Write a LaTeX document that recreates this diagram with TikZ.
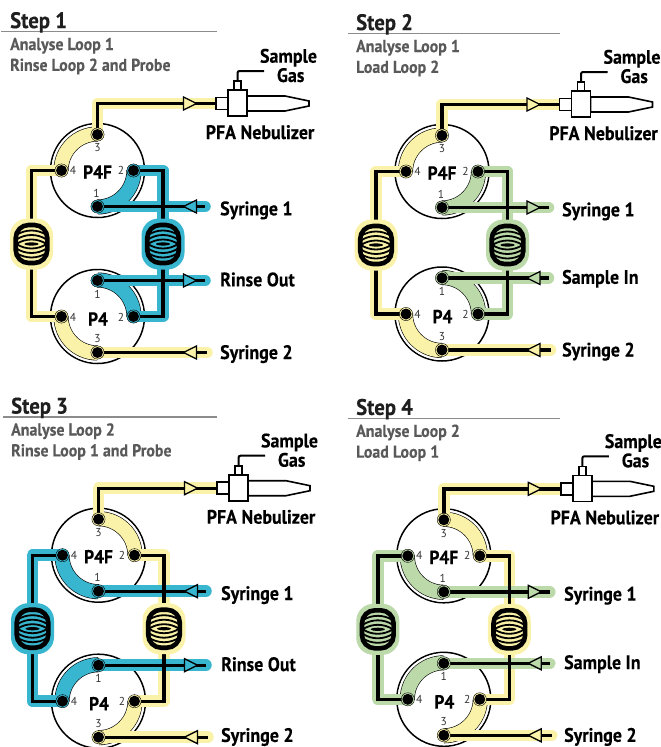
\documentclass[tikz,border=0pt]{standalone}
\usepackage{fontspec}
\setmainfont{PT Sans}
\newfontfamily\nf{PT Sans}[FakeStretch=0.92,BoldFeatures={FakeBold=0.25}]
\definecolor{ylw}{HTML}{FAF2A8}
\definecolor{blu}{HTML}{38B6CF}
\definecolor{grn}{HTML}{BBD9A9}
\tikzset{
  wire/.style={line width=3.4pt,black,line join=miter},
  halo/.style={line width=11.5pt,line join=round},
  haloend/.style={line width=11.5pt,line cap=round},
  tri/.style={draw=black,line width=1.3pt,line join=miter},
  valve/.style={draw=black,line width=1.5pt,fill=white},
  neb/.style={draw=black,line width=1.6pt,fill=white,line join=miter},
  portnum/.style={font=\fontsize{11.5}{13}\selectfont,text=black!80,inner sep=0pt},
  vname/.style={font=\nf\bfseries\fontsize{19}{21}\selectfont,inner sep=0pt},
  lbl/.style={font=\nf\bfseries\fontsize{19.5}{21}\selectfont,inner sep=0pt,anchor=base west},
  lblc/.style={font=\nf\bfseries\fontsize{19.5}{21}\selectfont,inner sep=0pt,anchor=base},
  steptitle/.style={font=\nf\bfseries\fontsize{22.5}{24}\selectfont,text=black!88,inner sep=0pt,anchor=base west},
  subtitle/.style={font=\nf\bfseries\fontsize{17.3}{19}\selectfont,text=black!65,inner sep=0pt,anchor=base west},
}
\newcommand{\band}[4]{%
  \draw[white,line width=19pt] ($(#1)+(#2:36.5)$) arc[start angle=#2,end angle=#3,radius=36.5];
  \draw[black,line width=15pt] ($(#1)+(#2:36.5)$) arc[start angle=#2,end angle=#3,radius=36.5];
  \draw[#4,line width=13.8pt] ($(#1)+(#2:36.5)$) arc[start angle=#2,end angle=#3,radius=36.5];
}
\newcommand{\portdot}[2]{%
  \fill[#2,draw=black,line width=0.4pt] (#1) circle[radius=6.6];
  \fill[black] (#1) circle[radius=5.5];
}
\newcommand{\coilshape}[2]{%
  \begin{scope}[shift={(#1)}]
    \fill[#2,rounded corners=17pt] (-21.5,-25.5) rectangle (21.5,25.5);
    \draw[black,line width=4.6pt,rounded corners=13pt] (-15.8,-19) rectangle (15.8,19);
    \foreach \h in {14,9.5,5}{
      \draw[black,line width=1.8pt] (-15,-\h+5) .. controls (-6,-\h-1) and (6,-\h-1) .. (15,-\h+5);
      \draw[black,line width=1.8pt] (-15,\h-5) .. controls (-6,\h+1) and (6,\h+1) .. (15,\h-5);
    }
    \fill[black] (0,0) ellipse[x radius=7,y radius=1.6];
  \end{scope}
}
\newcommand{\flowtri}[3]{%
  \draw[tri,fill=#3] ($(#1)+(-6.5*#2,-6.5)$) -- ($(#1)+(6.5*#2,0)$) -- ($(#1)+(-6.5*#2,6.5)$) -- cycle;
}
\newcommand{\drawstage}[9]{%
  \def\pn{#1}
  \ifnum#5=0 \def\lcol{ylw}\def\rcol{#6}\else\def\lcol{#6}\def\rcol{ylw}\fi
  \draw[black!45,line width=1.6pt] (\rulea,\ruley) coordinate (\pn-ra) -- (\ruleb,\ruley) coordinate (\pn-rb);
  \node[steptitle] (\pn-title) at (\titx,\ruley-3.4) {Step #7};
  \node[subtitle] (\pn-sa) at (\titx,\ruley+18.6) {#8};
  \node[subtitle] (\pn-sb) at (\titx,\ruley+39.4) {#9};
  \begin{scope}[shift={(#2,#3)}]
    \coordinate (\pn-u) at (97.5,170.5);
    \coordinate (\pn-l) at (97.5,316.5+#4);
    \coordinate (\pn-a3) at (97.5,134.5);
    \coordinate (\pn-a4) at (61.5,170.5);
    \coordinate (\pn-a2) at (133.5,170.5);
    \coordinate (\pn-a1) at (97.5,206.5);
    \coordinate (\pn-b1) at (97.5,280.5+#4);
    \coordinate (\pn-b4) at (61.5,316.5+#4);
    \coordinate (\pn-b2) at (133.5,316.5+#4);
    \coordinate (\pn-b3) at (97.5,352.5+#4);
    \coordinate (\pn-lc) at (31.5,244);
    \coordinate (\pn-rc) at (163,244);
    \coordinate (\pn-tope) at (216+\adj,103.5);
    \coordinate (\pn-s1) at (205+\adj,206.5);
    \coordinate (\pn-m1) at (205+\adj,280.5+#4);
    \coordinate (\pn-s2) at (207+\adj,352.5+#4);
    \draw[valve] (\pn-u) circle[radius=47];
    \draw[valve] (\pn-l) circle[radius=47];
    \ifnum#5=0
      \band{\pn-u}{270}{180}{ylw}
      \band{\pn-u}{90}{0}{#6}
      \band{\pn-l}{180}{90}{ylw}
      \band{\pn-l}{270}{360}{#6}
    \else
      \band{\pn-u}{270}{360}{ylw}
      \band{\pn-u}{180}{90}{#6}
      \band{\pn-l}{0}{90}{ylw}
      \band{\pn-l}{180}{270}{#6}
    \fi
    \draw[halo,draw=\rcol] (\pn-a2) -| (\pn-rc) |- (\pn-b2);
    \draw[halo,draw=\lcol] (\pn-a4) -| (\pn-lc) |- (\pn-b4);
    \draw[halo,draw=ylw] (\pn-a3) |- (\pn-tope);
    \draw[haloend,draw=#6] (\pn-a1) -- (\pn-s1);
    \draw[haloend,draw=#6] (\pn-b1) -- (\pn-m1);
    \draw[haloend,draw=ylw] (\pn-b3) -- (\pn-s2);
    \draw[wire] (\pn-a2) -| (\pn-rc) |- (\pn-b2);
    \draw[wire] (\pn-a4) -| (\pn-lc) |- (\pn-b4);
    \draw[wire] (\pn-a3) |- (\pn-tope);
    \draw[wire] (\pn-a1) -- (\pn-s1);
    \draw[wire] (\pn-b1) -- (\pn-m1);
    \draw[wire] (\pn-b3) -- (\pn-s2);
    \coilshape{\pn-lc}{\lcol}
    \coilshape{\pn-rc}{\rcol}
    \flowtri{$(\pn-tope)+(-26,0)$}{1}{ylw}
    \flowtri{$(\pn-s1)+(-15,0)$}{\dirA}{#6}
    \flowtri{$(\pn-m1)+(-15,0)$}{\dirB}{#6}
    \flowtri{$(\pn-s2)+(-17,0)$}{-1}{ylw}
    \portdot{\pn-a3}{ylw}
    \portdot{\pn-b3}{ylw}
    \ifnum#5=0
      \portdot{\pn-a4}{ylw}\portdot{\pn-b4}{ylw}
      \portdot{\pn-a1}{#6}\portdot{\pn-a2}{#6}\portdot{\pn-b1}{#6}\portdot{\pn-b2}{#6}
    \else
      \portdot{\pn-a2}{ylw}\portdot{\pn-b2}{ylw}
      \portdot{\pn-a1}{#6}\portdot{\pn-a4}{#6}\portdot{\pn-b1}{#6}\portdot{\pn-b4}{#6}
    \fi
    \node[portnum] (\pn-n3) at (97.5,148) {3};
    \node[portnum] (\pn-n4) at (73,170.5) {4};
    \node[portnum] (\pn-n2) at (121,170.5) {2};
    \node[portnum] (\pn-n1) at (96.5,193) {1};
    \node[portnum] (\pn-k1) at (97.5,294+#4) {1};
    \node[portnum] (\pn-k4) at (73,317+#4) {4};
    \node[portnum] (\pn-k2) at (121,317+#4) {2};
    \node[portnum] (\pn-k3) at (97.5,339+#4) {3};
    \node[vname] (\pn-vu) at (97.5,172) {P4F};
    \node[vname] (\pn-vl) at (98,319+#4) {P4};
    \node[lbl] (\pn-ls1) at (\labx,215.3) {Syringe 1};
    \node[lbl] (\pn-lm) at (\labx,286.3+#4) {\midlab};
    \node[lbl] (\pn-ls2) at (\labx,359+#4+\sylift) {Syringe 2};
    \begin{scope}[shift={(\adj,0)}]
      \draw[black,line width=2pt,rounded corners=2pt] (237.5,81) coordinate (\pn-g1) -- (237.5,71) -- (264,71) coordinate (\pn-g2);
      \draw[neb] (247,96) -- (285,96) -- (309,101) -- (309,106) -- (285,111) -- (247,111) -- cycle;
      \draw[neb] (216,97.5) rectangle (228,109.5);
      \draw[neb] (234,81) rectangle (241,90);
      \draw[neb] (228,90) rectangle (247,116);
      \node[lblc] (\pn-ng1) at (288.5,62.7) {Sample};
      \node[lblc] (\pn-ng2) at (290.7,82) {Gas};
      \node[lblc] (\pn-nb) at (260,139) {PFA Nebulizer};
    \end{scope}
  \end{scope}
}
\usetikzlibrary{calc}
\begin{document}
\begin{tikzpicture}[x=1pt,y=-1pt]
\useasboundingbox (0,0) rectangle (661,747);
\def\sylift{0}
\def\rulea{1}\def\ruleb{217}\def\ruley{31.5}\def\titx{10}\def\labx{220}\def\adj{0}
\def\midlab{Rinse Out}\def\dirA{-1}\def\dirB{1}
\drawstage{s}{0}{0}{0}{0}{blu}{1}{Analyse Loop 1}{Rinse Loop 2 and Probe}
\def\rulea{348}\def\ruleb{560}\def\ruley{33.5}\def\titx{356}\def\labx{217.5}\def\adj{-1}
\def\midlab{Sample In}\def\dirA{1}\def\dirB{-1}
\drawstage{t}{344.5}{1}{-3.5}{0}{grn}{2}{Analyse Loop 1}{Load Loop 2}
\def\sylift{-1.8}
\def\rulea{2.5}\def\ruleb{217}\def\ruley{417}\def\titx{11}\def\labx{220}\def\adj{0}
\def\midlab{Rinse Out}\def\dirA{-1}\def\dirB{1}
\drawstage{u}{1}{384.7}{0}{1}{blu}{3}{Analyse Loop 2}{Rinse Loop 1 and Probe}
\def\sylift{0}
\def\rulea{348}\def\ruleb{560}\def\ruley{418.3}\def\titx{356}\def\labx{217.7}\def\adj{-1.5}
\def\midlab{Sample In}\def\dirA{1}\def\dirB{-1}
\drawstage{v}{346.3}{385.3}{-2.5}{1}{grn}{4}{Analyse Loop 2}{Load Loop 1}
\end{tikzpicture}
\end{document}
